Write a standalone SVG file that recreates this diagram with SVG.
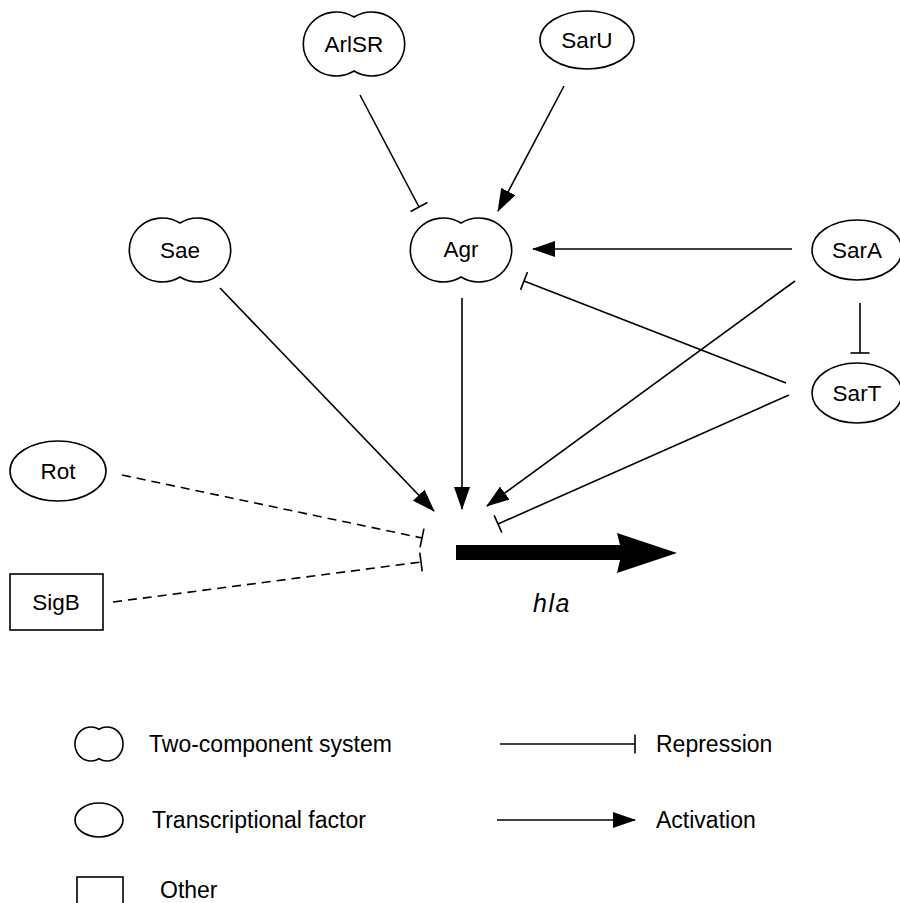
<svg xmlns="http://www.w3.org/2000/svg" width="900" height="903" viewBox="0 0 900 903">
<style>
  .node { fill: #fff; stroke: #000; stroke-width: 1.6; }
  .lbl { font-family: "Liberation Sans", Arial, sans-serif; font-size: 22.5px; fill: #000; text-anchor: middle; }
  .leg { font-family: "Liberation Sans", Arial, sans-serif; font-size: 23px; fill: #000; }
  .act { stroke: #000; stroke-width: 1.6; fill: none; marker-end: url(#arrow); }
  .rep { stroke: #000; stroke-width: 1.6; fill: none; marker-end: url(#tbar); }
  .dash { stroke-dasharray: 9 6; }
</style>
<defs>
  <path id="tcs" d="M0,-27 A33,32 0 1 0 0,27 A33,32 0 1 0 0,-27 Z"/>
  <marker id="arrow" markerUnits="userSpaceOnUse" viewBox="0 0 23 16" refX="22" refY="8" markerWidth="23" markerHeight="16" orient="auto">
    <path d="M0,0 L23,8 L0,16 Z" fill="#000"/>
  </marker>
  <marker id="tbar" markerUnits="userSpaceOnUse" viewBox="-2 -10 4 20" refX="0" refY="0" markerWidth="4" markerHeight="20" orient="auto">
    <line x1="0" y1="-9.5" x2="0" y2="9.5" stroke="#000" stroke-width="1.6"/>
  </marker>
</defs>

<g id="connectors">
  <line class="rep" x1="360" y1="95" x2="419" y2="207"/>
  <line class="act" x1="564" y1="86" x2="498" y2="211"/>
  <line class="act" x1="220" y1="288" x2="434" y2="511"/>
  <line class="act" x1="462" y1="298" x2="462" y2="509"/>
  <line class="act" x1="792" y1="249" x2="533" y2="249"/>
  <line class="act" x1="795" y1="281" x2="487" y2="506"/>
  <line class="rep" x1="786" y1="383" x2="524" y2="281"/>
  <line class="rep" x1="789" y1="395" x2="498" y2="524"/>
  <line class="rep" x1="860" y1="303" x2="860" y2="353"/>
  <line class="rep dash" x1="122" y1="475" x2="422" y2="538"/>
  <line class="rep dash" x1="113" y1="602" x2="421" y2="562"/>
</g>

<g id="ArlSR"><use href="#tcs" class="node" transform="translate(354,44)"/><text class="lbl" x="354" y="52">ArlSR</text></g>
<g id="SarU"><ellipse class="node" cx="587" cy="40" rx="47" ry="29"/><text class="lbl" x="587" y="48">SarU</text></g>
<g id="Sae"><use href="#tcs" class="node" transform="translate(180,250)"/><text class="lbl" x="180" y="258">Sae</text></g>
<g id="Agr"><use href="#tcs" class="node" transform="translate(461,250)"/><text class="lbl" x="461" y="257">Agr</text></g>
<g id="SarA"><ellipse class="node" cx="857" cy="250" rx="45" ry="30"/><text class="lbl" x="857" y="258">SarA</text></g>
<g id="SarT"><ellipse class="node" cx="857" cy="393" rx="45" ry="30"/><text class="lbl" x="857" y="401">SarT</text></g>
<g id="Rot"><ellipse class="node" cx="58" cy="471" rx="48" ry="30"/><text class="lbl" x="58" y="479">Rot</text></g>
<g id="SigB"><rect class="node" x="10" y="574" width="93" height="56"/><text class="lbl" x="56" y="610">SigB</text></g>

<g id="hla">
  <path d="M456,545 L620,545 L617,533 L677,553 L617,573 L620,560 L456,560 Z" fill="#000"/>
  <text x="552" y="612" font-family="'Liberation Sans', Arial, sans-serif" font-size="25" font-style="italic" letter-spacing="1.5" text-anchor="middle">hla</text>
</g>

<g id="legend">
  <path class="node" d="M99,729.3 A16,17 0 1 0 99,758.7 A16,17 0 1 0 99,729.3 Z"/>
  <text class="leg" x="149" y="752">Two-component system</text>
  <ellipse class="node" cx="99" cy="820" rx="24" ry="17"/>
  <text class="leg" x="152" y="828">Transcriptional factor</text>
  <rect class="node" x="77" y="877" width="46" height="40"/>
  <text class="leg" x="160" y="898">Other</text>
  <line class="rep" x1="500" y1="744" x2="635" y2="744"/>
  <text class="leg" x="656" y="752">Repression</text>
  <line class="act" x1="497" y1="820" x2="635" y2="820"/>
  <text class="leg" x="656" y="828">Activation</text>
</g>
</svg>
